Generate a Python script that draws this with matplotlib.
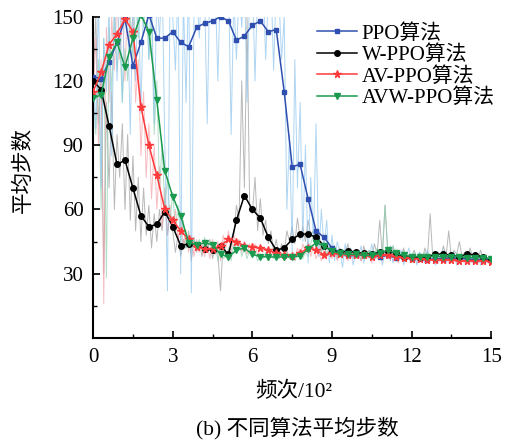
import numpy as np
import matplotlib
matplotlib.use('Agg')
import matplotlib.pyplot as plt

plt.rcParams['font.family'] = ['Liberation Serif', 'Noto Sans CJK SC']
plt.rcParams['axes.unicode_minus'] = False

# 平滑曲线 (x = 0, 0.3, ..., 15)
x_s = np.linspace(0, 15, 51)
ppo_s = [122, 121, 129, 138, 149, 127, 138, 151, 140, 140,
         143, 138, 136, 145, 147, 148, 150, 148, 139, 141,
         146, 148, 143, 144, 115, 80, 81, 65, 50, 47,
         42, 40, 38.5, 38.5, 39, 38.5, 38, 38.5, 37.5, 37.5,
         37, 37.5, 36.5, 37, 37, 37.5, 37, 37, 36.5, 36.5, 36.5]
wppo_s = [120, 116, 99, 81, 83, 70, 57, 52, 53, 59,
          52, 43, 44, 43.5, 41.5, 41, 43, 39, 55, 66.5,
          60, 56, 47, 41, 42, 46, 48.5, 48.5, 47, 43,
          40.5, 40, 40.5, 40, 39.5, 39, 40, 40.5, 39.5, 38,
          38, 37.5, 38, 39, 39.3, 38.5, 38, 39, 38.8, 37.8, 36.5]
avppo_s = [115, 124, 137, 142, 149, 143, 108, 90, 76, 60,
           55, 50, 46, 42.5, 41.6, 41.6, 43, 46, 45, 43,
           42.5, 42, 41, 39.5, 38.5, 38.3, 39.7, 42, 41, 38.8,
           39.5, 39, 38.8, 38.5, 38.5, 38, 38.5, 38.5, 38, 37.5,
           37, 37, 36.5, 36.5, 36.5, 36.5, 36, 36, 36, 36, 35.5]
avwppo_s = [112, 113.5, 131, 138, 126.5, 140, 151, 143, 111, 78,
            66, 57, 44.5, 43.5, 44.4, 43.5, 39, 37.8, 41, 42,
            39, 38, 37.8, 37.8, 37.8, 37.8, 38.3, 41.5, 44.4, 43,
            40.5, 39.5, 39, 39, 38.5, 38.5, 39.5, 41, 39.5, 38.5,
            38, 38, 38, 38, 38, 38, 38, 37.5, 37.5, 37.5, 36.8]

# 原始数据 (x = 0, 0.1, ..., 15)
x_r = np.linspace(0, 15, 151)
ppo_r = [125, 98, 160, 70, 140, 115, 155, 85, 160, 120,
         165, 110, 170, 150, 95, 160, 120, 165, 105, 160,
         170, 130, 165, 100, 160, 140, 170, 90, 22, 165,
         150, 125, 165, 30, 160, 110, 170, 21, 150, 165,
         140, 170, 160, 100, 170, 150, 165, 120, 170, 160,
         150, 170, 95, 160, 130, 165, 145, 170, 110, 165,
         170, 120, 165, 150, 170, 130, 160, 170, 125, 165,
         160, 130, 150, 60, 95, 40, 130, 70, 110, 45,
         90, 35, 75, 45, 100, 38, 60, 42, 55, 35,
         48, 36, 45, 40, 33, 44, 37, 42, 34, 40,
         38, 43, 35, 40, 37, 44, 36, 39, 41, 34,
         40, 37, 43, 35, 39, 36, 41, 34, 38, 42,
         36, 39, 34, 40, 37, 35, 41, 36, 38, 34,
         39, 36, 41, 35, 38, 37, 40, 34, 38, 36,
         37, 40, 35, 38, 36, 39, 34, 37, 38, 35, 37]
wppo_r = [120, 150, 100, 125, 30, 110, 70, 115, 60, 95,
          75, 100, 60, 95, 55, 85, 50, 75, 45, 70,
          48, 62, 42, 58, 45, 60, 50, 65, 48, 58,
          50, 40, 48, 38, 46, 42, 50, 36, 47, 40,
          45, 38, 44, 40, 46, 37, 43, 39, 22, 45,
          40, 36, 44, 48, 62, 55, 120, 70, 150, 60,
          58, 75, 50, 65, 48, 55, 44, 50, 40, 46,
          38, 44, 40, 50, 45, 52, 44, 56, 46, 52,
          45, 55, 48, 50, 42, 47, 40, 45, 38, 43,
          39, 43, 37, 42, 40, 38, 44, 37, 41, 39,
          40, 36, 43, 38, 41, 37, 44, 39, 55, 38,
          62, 40, 36, 43, 38, 40, 37, 42, 36, 39,
          38, 41, 37, 40, 36, 42, 38, 58, 37, 40,
          39, 37, 43, 38, 50, 37, 41, 39, 45, 38,
          40, 37, 42, 38, 39, 36, 41, 37, 38, 36, 36]
avppo_r = [115, 140, 90, 130, 16, 145, 110, 150, 125, 160,
           130, 155, 120, 165, 140, 150, 110, 130, 85, 115,
           75, 100, 65, 90, 60, 80, 52, 70, 48, 62,
           50, 60, 45, 55, 42, 50, 40, 48, 38, 46,
           40, 45, 38, 44, 37, 46, 39, 45, 36, 48,
           42, 50, 40, 48, 43, 46, 40, 45, 39, 44,
           40, 44, 38, 43, 40, 42, 37, 41, 38, 40,
           37, 40, 36, 41, 37, 39, 36, 42, 38, 44,
           40, 45, 38, 43, 37, 40, 36, 41, 38, 40,
           37, 41, 36, 40, 38, 39, 36, 41, 37, 39,
           38, 36, 40, 37, 39, 35, 40, 37, 38, 36,
           39, 37, 40, 36, 38, 35, 39, 37, 36, 38,
           36, 38, 35, 37, 36, 38, 35, 37, 36, 37,
           35, 37, 36, 38, 35, 37, 36, 35, 37, 36,
           35, 37, 36, 35, 37, 35, 36, 34, 36, 35, 35]
avwppo_r = [112, 95, 130, 60, 140, 28, 145, 115, 150, 125,
            140, 110, 135, 120, 150, 130, 160, 140, 165, 145,
            160, 130, 150, 95, 120, 70, 90, 60, 75, 55,
            68, 50, 62, 45, 55, 42, 48, 40, 46, 42,
            46, 40, 47, 41, 45, 39, 44, 36, 42, 37,
            38, 42, 36, 44, 40, 45, 38, 42, 37, 41,
            38, 40, 36, 39, 37, 40, 36, 39, 37, 40,
            37, 39, 36, 40, 37, 38, 36, 39, 38, 37,
            40, 38, 44, 48, 42, 50, 40, 45, 38, 42,
            39, 42, 38, 40, 37, 41, 38, 40, 37, 41,
            39, 37, 40, 38, 41, 37, 39, 42, 38, 40,
            62, 41, 38, 43, 39, 40, 38, 41, 37, 39,
            38, 40, 37, 39, 38, 40, 37, 39, 38, 37,
            39, 37, 40, 38, 37, 39, 38, 36, 39, 37,
            38, 36, 39, 37, 38, 36, 38, 37, 36, 37, 37]

labels = ['PPO算法', 'W-PPO算法', 'AV-PPO算法', 'AVW-PPO算法']
colors = ['#2f4fb0', '#000000', '#ff3a3a', '#1a9a4f']
raw_colors = ['#8cc4ee', '#9a9a9a', '#f4a0a8', '#8fd0b0']
markers = ['s', 'o', '*', 'v']
msizes = [3.2, 4, 5.5, 4]

fig = plt.figure(figsize=(5.09, 4.40), dpi=100)
ax = fig.add_axes([0.183, 0.232, 0.782, 0.730])

raws = [wppo_r, avppo_r, avwppo_r, ppo_r]
rcols = [raw_colors[1], raw_colors[2], raw_colors[3], raw_colors[0]]
for r, c in zip(raws, rcols):
    ax.plot(x_r, r, color=c, lw=0.7, alpha=0.7, zorder=1)

smooth = [ppo_s, wppo_s, avppo_s, avwppo_s]
for i in [3, 2, 1, 0]:
    ax.plot(x_s, smooth[i], color=colors[i], lw=1.1, marker=markers[i],
            ms=msizes[i], label=labels[i], zorder=3 + i)

ax.set_xlim(0, 15)
ax.set_ylim(0, 150)
ax.set_xticks([0, 3, 6, 9, 12, 15])
ax.set_xticks([1.5, 4.5, 7.5, 10.5, 13.5], minor=True)
ax.set_yticks([30, 60, 90, 120, 150])
ax.set_yticks([15, 45, 75, 105, 135], minor=True)
ax.tick_params(which='major', direction='in', length=5, width=1.2, labelsize=15, pad=7)
ax.tick_params(which='minor', direction='in', length=3, width=1.0)
for s in ['top', 'right']:
    ax.spines[s].set_visible(False)
for s in ['left', 'bottom']:
    ax.spines[s].set_linewidth(1.5)

fig.text(24 / 509, 1 - 170 / 440, '平均步数', rotation=90, ha='center', va='center', fontsize=15.5)
fig.text(294 / 509, 1 - 392 / 440, '频次/10²', ha='center', va='center', fontsize=15.5)
fig.text(297 / 509, 1 - 428 / 440, '(b) 不同算法平均步数', ha='center', va='center', fontsize=15.5)

h, l = ax.get_legend_handles_labels()
ax.legend(h[::-1], l[::-1], loc='upper left', bbox_to_anchor=(317 / 509, 1 - 24 / 440),
          bbox_transform=fig.transFigure, frameon=False, fontsize=15, borderpad=0,
          handlelength=1.9, handletextpad=0.25, labelspacing=0.08, borderaxespad=0)

fig.savefig('out.png', dpi=100)
